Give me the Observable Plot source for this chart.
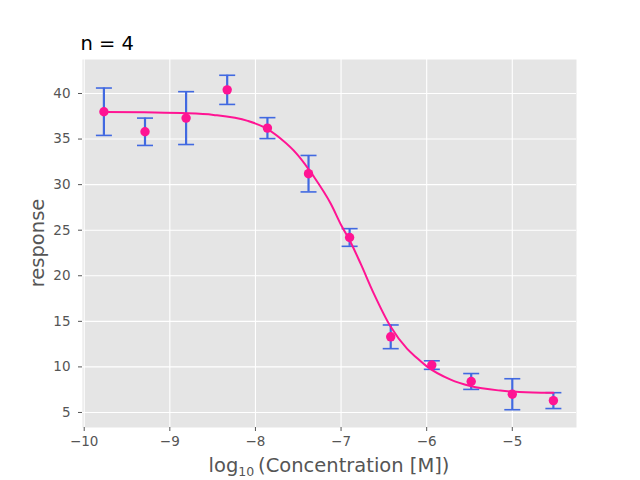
<!DOCTYPE html>
<html>
<head>
<meta charset="utf-8">
<script src="https://cdn.jsdelivr.net/npm/d3@7"></script>
<script src="https://cdn.jsdelivr.net/npm/@observablehq/plot@0.6"></script>
<style>
  body { margin: 0; background: #fff; }
  #chart svg { display: block; }
</style>
</head>
<body>
<div id="chart"></div>
<script>
// Measured points (log10 concentration, mean response, error)
const logConc = [-9.77, -9.29, -8.81, -8.33, -7.86, -7.38, -6.90, -6.42, -5.94, -5.48, -5.00, -4.52];
const response = [38.0, 35.8, 37.3, 40.4, 36.2, 31.2, 24.2, 13.3, 10.2, 8.4, 7.0, 6.3];
const errors = [2.6, 1.5, 2.9, 1.6, 1.15, 2.0, 0.97, 1.3, 0.47, 0.87, 1.7, 0.87];

// Fitted curve
const fitX = [-9.77, -9.3, -8.87, -8.49, -8.09, -7.9, -7.7, -7.51, -7.32, -7.12, -6.99, -6.9, -6.77, -6.62, -6.42, -6.23, -6.11, -5.99, -5.72, -5.49, -5.14, -4.76, -4.52];
const fitY = [37.98, 37.95, 37.85, 37.65, 37.0, 36.3, 35.0, 33.3, 30.9, 27.9, 25.4, 23.9, 21.3, 18.1, 14.4, 12.0, 10.95, 10.0, 8.6, 7.9, 7.4, 7.2, 7.17];

const xTicks = [-10, -9, -8, -7, -6, -5];
const yTicks = [5, 10, 15, 20, 25, 30, 35, 40];
const titleText = "n = 4";

const points = logConc.map((x, i) => ({x, y: response[i], lo: response[i] - errors[i], hi: response[i] + errors[i]}));
const fit = fitX.map((x, i) => ({x, y: fitY[i]}));

const cap = { draw(ctx, size) { const r = Math.sqrt(size / Math.PI); ctx.moveTo(-r, 0); ctx.lineTo(r, 0); } };

const fmt = d => (d < 0 ? "\u2212" + Math.abs(d) : String(d));

const plot = Plot.plot({
  width: 640,
  height: 480,
  marginLeft: 82,
  marginRight: 64,
  marginTop: 59,
  marginBottom: 53,
  style: { fontFamily: "DejaVu Sans", fontSize: "13.5px", color: "#555555", background: "#ffffff" },
  x: { domain: [-10.02, -4.25], ticks: xTicks, tickFormat: fmt, label: null },
  y: { domain: [3.35, 43.73], ticks: yTicks, tickFormat: fmt, label: null },
  marks: [
    Plot.frame({ fill: "#E5E5E5", stroke: null }),
    Plot.gridX(xTicks, { stroke: "#ffffff", strokeOpacity: 1, strokeWidth: 1.1 }),
    Plot.gridY(yTicks, { stroke: "#ffffff", strokeOpacity: 1, strokeWidth: 1.1 }),
    Plot.axisX(xTicks, { tickFormat: fmt, stroke: "#555555", fill: "#555555", tickSize: 4, tickPadding: 5, fontSize: 13.5 }),
    Plot.axisY(yTicks, { tickFormat: fmt, stroke: "#555555", fill: "#555555", tickSize: 4, tickPadding: 8, fontSize: 13.5 }),
    Plot.ruleX(points, { x: "x", y1: "lo", y2: "hi", stroke: "#4169E1", strokeWidth: 2.2 }),
    Plot.dot(points, { x: "x", y: "lo", symbol: cap, r: 8, stroke: "#4169E1", strokeWidth: 1.6, fill: "none" }),
    Plot.dot(points, { x: "x", y: "hi", symbol: cap, r: 8, stroke: "#4169E1", strokeWidth: 1.6, fill: "none" }),
    Plot.line(fit, { x: "x", y: "y", stroke: "#FF1493", strokeWidth: 2, curve: "monotone-x" }),
    Plot.dot(points, { x: "x", y: "y", r: 4.7, fill: "#FF1493", stroke: null }),
    Plot.text([titleText], { frameAnchor: "top-left", text: d => d, dy: -10, dx: -2, lineAnchor: "bottom", textAnchor: "start", fontSize: 19.5, fill: "#000000" })
  ]
});

document.getElementById("chart").appendChild(plot);

// Axis labels (with subscript) added as real text
const svg = d3.select(plot);
const xl = svg.append("text")
  .attr("x", 329).attr("y", 472)
  .attr("text-anchor", "middle")
  .attr("fill", "#555555")
  .style("font-size", "19.5px")
  .style("font-family", "DejaVu Sans");
xl.append("tspan").text("log");
xl.append("tspan").attr("font-size", "12.5px").attr("dy", "3.5").text("10");
xl.append("tspan").attr("dy", "-3.5").text("\u2009(Concentration [M])");

svg.append("text")
  .attr("transform", "translate(44,243) rotate(-90)")
  .attr("text-anchor", "middle")
  .attr("fill", "#555555")
  .style("font-size", "19.5px")
  .style("font-family", "DejaVu Sans")
  .text("response");
</script>
</body>
</html>
